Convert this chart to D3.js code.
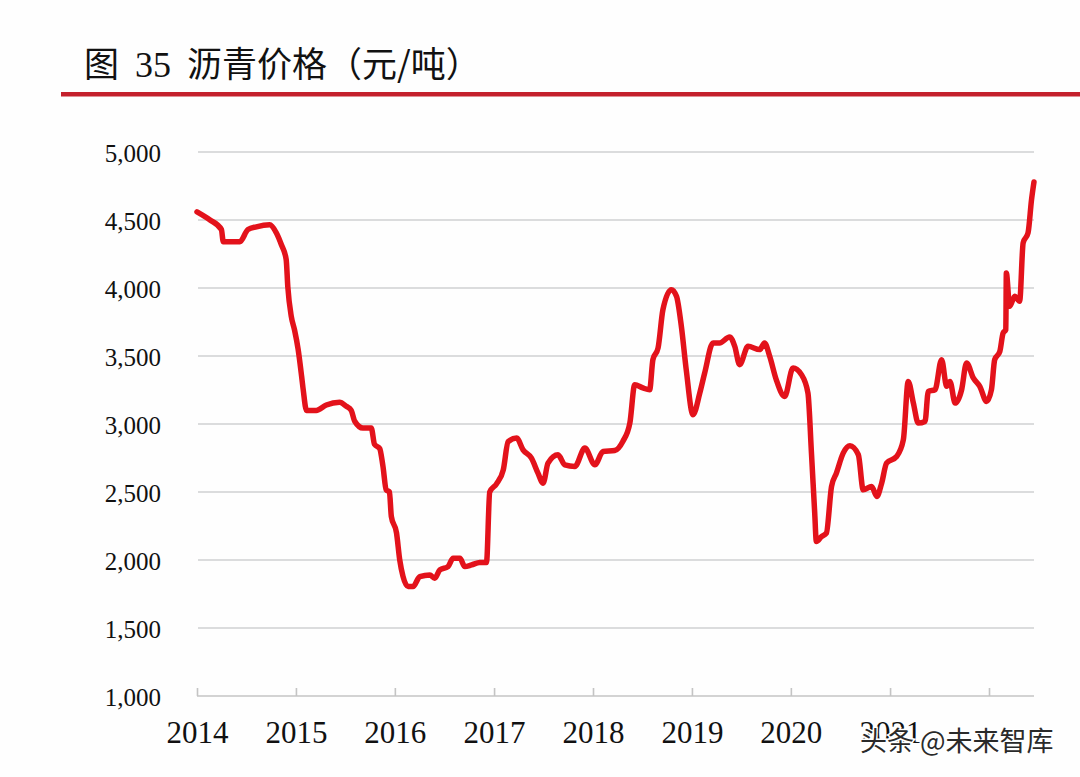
<!DOCTYPE html>
<html>
<head>
<meta charset="utf-8">
<script src="https://cdn.jsdelivr.net/npm/d3@7/dist/d3.min.js"></script>
<style>
    body { margin: 0; background: #fff; }
    svg { display: block; }
</style>
</head>
<body>
<div id="chart"></div>
<script>
// 沥青价格（元/吨）
var dates = [
    "2014-01-01", "2014-02-18", "2014-04-01", "2014-04-08", "2014-06-08", "2014-07-08", "2014-08-08", "2014-09-26",
    "2014-10-21", "2014-11-08", "2014-11-26", "2014-12-02", "2014-12-15", "2014-12-27", "2015-01-09", "2015-01-22",
    "2015-01-28", "2015-02-09", "2015-03-17", "2015-04-23", "2015-06-11", "2015-07-06", "2015-07-24", "2015-08-06",
    "2015-09-05", "2015-10-06", "2015-10-18", "2015-11-06", "2015-11-18", "2015-11-30", "2015-12-12", "2015-12-19",
    "2016-01-07", "2016-01-19", "2016-01-31", "2016-02-19", "2016-03-08", "2016-04-02", "2016-05-09", "2016-05-27",
    "2016-06-15", "2016-07-15", "2016-08-03", "2016-08-28", "2016-09-15", "2016-10-10", "2016-11-09", "2016-12-04",
    "2016-12-16", "2017-01-10", "2017-02-04", "2017-02-22", "2017-03-25", "2017-04-18", "2017-05-19", "2017-06-12",
    "2017-07-01", "2017-07-19", "2017-08-25", "2017-09-19", "2017-10-26", "2017-12-02", "2018-01-08", "2018-02-07",
    "2018-03-22", "2018-04-21", "2018-05-17", "2018-06-04", "2018-07-04", "2018-07-29", "2018-08-10", "2018-08-29",
    "2018-09-16", "2018-10-17", "2018-11-05", "2018-11-23", "2018-12-11", "2019-01-05", "2019-01-30", "2019-02-17",
    "2019-03-20", "2019-04-13", "2019-05-20", "2019-06-08", "2019-06-26", "2019-07-27", "2019-09-08", "2019-09-26",
    "2019-10-15", "2019-11-08", "2019-12-09", "2020-01-09", "2020-02-09", "2020-03-04", "2020-03-17", "2020-03-29",
    "2020-04-04", "2020-04-23", "2020-05-11", "2020-05-30", "2020-06-17", "2020-07-12", "2020-08-06", "2020-09-06",
    "2020-09-24", "2020-10-25", "2020-11-13", "2020-12-01", "2020-12-19", "2021-01-25", "2021-02-19", "2021-03-09",
    "2021-03-28", "2021-04-15", "2021-05-10", "2021-05-22", "2021-06-16", "2021-07-10", "2021-07-29", "2021-08-10",
    "2021-08-29", "2021-09-22", "2021-10-10", "2021-11-04", "2021-11-28", "2021-12-23", "2022-01-10", "2022-01-22",
    "2022-02-10", "2022-02-22", "2022-03-04", "2022-03-06", "2022-03-18", "2022-04-06", "2022-04-24", "2022-05-07",
    "2022-05-25", "2022-06-07", "2022-06-16"
];
var prices = [
    4560, 4500, 4430, 4340, 4340, 4430, 4450, 4465,
    4405, 4320, 4210, 4010, 3790, 3690, 3550, 3350,
    3250, 3100, 3100, 3140, 3160, 3130, 3100, 3020,
    2970, 2970, 2850, 2820, 2690, 2516, 2500, 2320,
    2200, 2000, 1880, 1805, 1805, 1878, 1890, 1866,
    1927, 1952, 2013, 2013, 1952, 1964, 1981, 1981,
    2500, 2560, 2663, 2870, 2897, 2810, 2749, 2639,
    2565, 2712, 2773, 2700, 2688, 2823, 2700, 2798,
    2805, 2872, 3007, 3289, 3265, 3252, 3473, 3559,
    3841, 3988, 3939, 3718, 3399, 3068, 3228, 3375,
    3596, 3596, 3640, 3571, 3436, 3571, 3547, 3596,
    3497, 3326, 3203, 3412, 3363, 3228, 2786, 2345,
    2136, 2172, 2197, 2541, 2639, 2786, 2840, 2774,
    2516, 2541, 2467, 2565, 2712, 2761, 2884, 3313,
    3154, 3007, 3019, 3240, 3252, 3473, 3277, 3313,
    3154, 3252, 3449, 3339, 3277, 3166, 3252, 3473,
    3534, 3669, 3694, 4111, 3865, 3939, 3902, 4332,
    4405, 4651, 4780
];
var yTicks = [1000, 1500, 2000, 2500, 3000, 3500, 4000, 4500, 5000];
var yearTicks = ["2014", "2015", "2016", "2017", "2018", "2019", "2020", "2021", "2022"];
var yearLabels = ["2014", "2015", "2016", "2017", "2018", "2019", "2020", "2021"];

var width = 1080;
var height = 777;
var parse = d3.timeParse("%Y-%m-%d");
var parseYear = d3.timeParse("%Y");

var data = dates.map(function (d, i) {
    return { date: parse(d), value: prices[i] };
});

var svg = d3.select("#chart").append("svg")
    .attr("width", width)
    .attr("height", height)
    .style("background", "#fefefe");

// 标题
var title = svg.append("text")
    .attr("x", 84)
    .attr("y", 77)
    .style("font-size", "35px")
    .style("fill", "#111");
title.append("tspan").style("font-family", "'Noto Sans CJK SC'").text("图");
title.append("tspan").attr("dx", 16).style("font-family", "'Liberation Serif'").style("font-size", "36px").text("35");
title.append("tspan").attr("dx", 16).style("font-family", "'Noto Sans CJK SC'").text("沥青价格（元/吨）");

svg.append("rect")
    .attr("x", 61)
    .attr("y", 92)
    .attr("width", width - 61)
    .attr("height", 4.5)
    .style("fill", "#c4202c");

var x = d3.scaleTime()
    .domain([parseYear("2014"), parseYear("2022")])
    .range([197, 989]);
var y = d3.scaleLinear()
    .domain([1000, 5000])
    .range([696, 152]);

// 网格线
svg.append("g").selectAll("line").data(yTicks.slice(1)).enter()
    .append("line")
    .attr("x1", 198)
    .attr("x2", 1034)
    .attr("y1", function (d) { return y(d); })
    .attr("y2", function (d) { return y(d); })
    .style("stroke", "#cfd0d2")
    .style("stroke-width", 1.6);

var yAxis = svg.append("g")
    .attr("transform", "translate(198,0)")
    .call(d3.axisLeft(y).tickValues(yTicks).tickSize(0).tickPadding(37).tickFormat(d3.format(",")));
yAxis.select(".domain").remove();
yAxis.selectAll("text")
    .attr("dy", "0.36em")
    .style("font-family", "'Liberation Serif', 'Times New Roman', serif")
    .style("font-size", "25px")
    .style("fill", "#111");

var xAxis = svg.append("g")
    .attr("transform", "translate(0,696)")
    .call(d3.axisBottom(x).tickValues(yearTicks.map(parseYear)).tickSize(-8).tickFormat(function (d) {
        var s = d3.timeFormat("%Y")(d);
        return yearLabels.indexOf(s) >= 0 ? s : "";
    }));
xAxis.select(".domain")
    .attr("d", "M197,0H1034")
    .style("stroke", "#c4c4c4")
    .style("stroke-width", 1.6);
xAxis.selectAll(".tick line")
    .style("stroke", "#c4c4c4")
    .style("stroke-width", 1.6);
xAxis.selectAll("text")
    .attr("y", 47)
    .attr("dy", 0)
    .style("font-family", "'Liberation Serif', 'Times New Roman', serif")
    .style("font-size", "31px")
    .style("fill", "#111");

// 价格曲线
var line = d3.line()
    .x(function (d) { return x(d.date); })
    .y(function (d) { return y(d.value); })
    .curve(d3.curveMonotoneX);

svg.append("path")
    .datum(data)
    .attr("d", line)
    .style("fill", "none")
    .style("stroke", "#e3121b")
    .style("stroke-width", 5.5)
    .style("stroke-linejoin", "round")
    .style("stroke-linecap", "round");

// 水印（原图即压在 2021 标签上）
svg.append("text")
    .attr("x", 860)
    .attr("y", 751)
    .style("font-family", "'Noto Sans CJK SC'")
    .style("font-size", "27px")
    .style("fill", "#2a2a2a")
    .style("stroke", "#fff")
    .style("stroke-width", 3)
    .style("paint-order", "stroke")
    .text("头条 @未来智库");
</script>
</body>
</html>
